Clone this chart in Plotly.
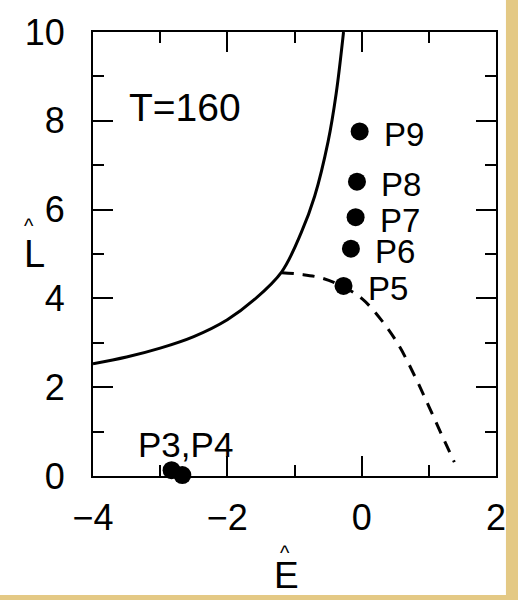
import plotly.graph_objects as go

# Data
solid_E = [-4.0, -3.5, -3.0, -2.5, -2.0, -1.6, -1.19, -0.9, -0.7, -0.5, -0.38, -0.27]
solid_L = [2.53, 2.68, 2.88, 3.14, 3.52, 3.97, 4.60, 5.48, 6.30, 7.53, 8.61, 10.0]

dashed_E = [-1.19, -0.9, -0.6, -0.3, 0.0, 0.3, 0.55, 0.8, 1.0, 1.2, 1.38]
dashed_L = [4.58, 4.54, 4.46, 4.28, 4.0, 3.5, 2.95, 2.22, 1.57, 0.90, 0.31]

point_names = ["P9", "P8", "P7", "P6", "P5"]
point_E = [-0.03, -0.07, -0.09, -0.16, -0.27]
point_L = [7.76, 6.63, 5.83, 5.12, 4.28]

low_names = ["P3", "P4"]
low_E = [-2.83, -2.67]
low_L = [0.13, 0.02]

x_ticks = [-4, -2, 0, 2]
y_ticks = [0, 2, 4, 6, 8, 10]

FONT = "Liberation Sans, Arial, sans-serif"

fig = go.Figure()
fig.add_trace(go.Scatter(x=solid_E, y=solid_L, mode="lines",
                         line=dict(color="black", width=3, shape="spline", smoothing=1.0),
                         showlegend=False, hoverinfo="skip"))
fig.add_trace(go.Scatter(x=dashed_E, y=dashed_L, mode="lines",
                         line=dict(color="black", width=3, shape="spline", smoothing=1.0,
                                   dash="12px,9px"),
                         showlegend=False, hoverinfo="skip"))
fig.add_trace(go.Scatter(x=point_E, y=point_L, mode="markers",
                         marker=dict(color="black", size=18),
                         showlegend=False, cliponaxis=False))
fig.add_trace(go.Scatter(x=low_E, y=low_L, mode="markers",
                         marker=dict(color="black", size=18),
                         showlegend=False, cliponaxis=False))

for n, e, l in zip(point_names, point_E, point_L):
    fig.add_annotation(x=e, y=l, text=n, showarrow=False, xanchor="left", yanchor="middle",
                       xshift=22, yshift=-3, font=dict(family=FONT, size=33, color="black"))

fig.add_annotation(x=low_E[0], y=low_L[0], text=",".join(low_names), showarrow=False,
                   xanchor="center", yanchor="middle", xshift=14, yshift=26,
                   font=dict(family=FONT, size=35, color="black"))

fig.add_annotation(x=0.084, y=0.83, xref="paper", yref="paper", text="T=160", showarrow=False,
                   xanchor="left", yanchor="middle", font=dict(family=FONT, size=39, color="black"))

# axis titles with hats
fig.add_annotation(x=(287 - 93) / 405, y=(476 - 600) / 451, xref="paper", yref="paper", text="E",
                   showarrow=False, xanchor="center", yanchor="bottom",
                   font=dict(family=FONT, size=37, color="black"))
fig.add_annotation(x=(286 - 93) / 405, y=(476 - 554) / 451, xref="paper", yref="paper", text="^",
                   showarrow=False, xanchor="center", yanchor="middle",
                   font=dict(family=FONT, size=20, color="black"))
fig.add_annotation(x=(34 - 93) / 405, y=(476 - 250) / 451, xref="paper", yref="paper", text="L",
                   showarrow=False, xanchor="center", yanchor="middle",
                   font=dict(family=FONT, size=38, color="black"))
fig.add_annotation(x=(29 - 93) / 405, y=(476 - 222) / 451, xref="paper", yref="paper", text="^",
                   showarrow=False, xanchor="center", yanchor="middle",
                   font=dict(family=FONT, size=20, color="black"))

# decorative beige frame strips (right and bottom)
fig.add_shape(type="rect", xref="paper", yref="paper",
              x0=(508 - 93) / 405, x1=(525 - 93) / 405, y0=(476 - 610) / 451, y1=(476 + 10) / 451,
              fillcolor="#E4C985", line=dict(width=0), layer="above")
fig.add_shape(type="rect", xref="paper", yref="paper",
              x0=(0 - 100) / 405, x1=(525 - 93) / 405, y0=(476 - 610) / 451, y1=(476 - 597) / 451,
              fillcolor="#E4C985", line=dict(width=0), layer="above")

axis_common = dict(showgrid=False, zeroline=False, showline=True, linecolor="black", linewidth=2,
                   mirror="allticks", ticks="inside", ticklen=20, tickwidth=2, tickcolor="black",
                   tickfont=dict(family=FONT, size=36, color="black"),
                   minor=dict(ticks="inside", ticklen=11, tickwidth=2, tickcolor="black", dtick=1))

fig.update_xaxes(range=[-4, 2], tickvals=x_ticks, ticklabelstandoff=9, **axis_common)
fig.update_yaxes(range=[0, 10], tickvals=y_ticks, ticklabelstandoff=19, **axis_common)
fig.update_xaxes(minor=dict(tickvals=[-3, -1, 1]))
fig.update_yaxes(minor=dict(tickvals=[1, 3, 5, 7, 9]))

fig.update_layout(width=518, height=600, margin=dict(l=93, r=20, t=25, b=124),
                  plot_bgcolor="white", paper_bgcolor="white", showlegend=False)

fig.write_html("out.html")
